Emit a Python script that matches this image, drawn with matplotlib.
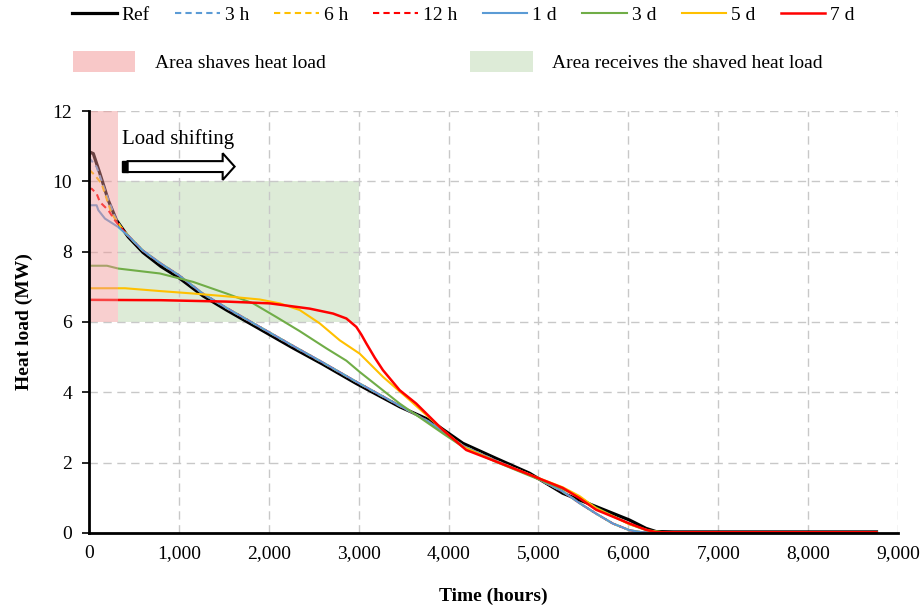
import matplotlib
matplotlib.use("Agg")
import matplotlib.pyplot as plt
from matplotlib.lines import Line2D
from matplotlib.patches import Patch, Rectangle, FancyArrow

plt.rcParams['font.family'] = ['Liberation Serif', 'DejaVu Serif']
plt.rcParams['font.size'] = 14

# reference duration curve
ref_h = [0, 11, 48, 122, 215, 307, 437, 600, 800, 1000, 1270, 1530, 1900, 2270, 2600,
         2974, 3200, 3456, 3789, 4159, 4530, 4900, 5270, 5641, 6011, 6197, 6307, 6500, 8760]
ref_mw = [10.7, 10.83, 10.79, 10.22, 9.46, 8.89, 8.42, 7.98, 7.58, 7.26, 6.74, 6.34, 5.8, 5.26, 4.8,
          4.25, 3.94, 3.59, 3.21, 2.55, 2.12, 1.70, 1.13, 0.75, 0.37, 0.13, 0.04, 0.03, 0.03]

# short storage cases share the same body after ~400 h
tail_h = [437, 600, 800, 1000, 1270, 1530, 1900, 2270, 2600, 2974, 3456, 3789, 4159, 4530,
          4900, 5270, 5456, 5641, 5826, 6011, 6150, 8760]
tail_mw = [8.45, 8.03, 7.66, 7.33, 6.80, 6.40, 5.86, 5.32, 4.85, 4.30, 3.62, 3.15, 2.48, 2.05,
           1.66, 1.18, 0.85, 0.55, 0.27, 0.08, 0.02, 0.02]

h3_h = [0, 11, 85, 178, 289, 350]
h3_mw = [10.6, 10.64, 10.41, 9.74, 8.99, 8.72]
h6_h = [0, 11, 67, 141, 252, 350]
h6_mw = [10.3, 10.31, 10.17, 9.93, 9.08, 8.72]
h12_h = [0, 30, 85, 122, 215, 289, 350]
h12_mw = [9.79, 9.79, 9.65, 9.41, 9.18, 8.89, 8.70]
d1_h = [0, 85, 104, 178, 326]
d1_mw = [9.32, 9.32, 9.18, 8.94, 8.70]

d3_h = [0, 200, 326, 789, 1159, 1530, 1826, 2085, 2344, 2641, 2863, 3011, 3456, 3937, 4159,
        4530, 4900, 5270, 5456, 5641, 6011, 6197, 6400, 8760]
d3_mw = [7.6, 7.6, 7.52, 7.38, 7.14, 6.81, 6.53, 6.14, 5.74, 5.25, 4.90, 4.58, 3.68, 2.83, 2.45,
         2.02, 1.63, 1.25, 1.02, 0.72, 0.25, 0.08, 0.02, 0.02]
d5_h = [0, 400, 789, 1159, 1530, 1900, 2122, 2344, 2567, 2789, 3011, 3270, 3567, 3937, 4159,
        4530, 4900, 5270, 5456, 5641, 6011, 6250, 6400, 8760]
d5_mw = [6.96, 6.96, 6.88, 6.81, 6.73, 6.64, 6.53, 6.34, 5.96, 5.48, 5.10, 4.44, 3.78, 2.93, 2.45,
         2.03, 1.66, 1.30, 1.05, 0.70, 0.25, 0.05, 0.02, 0.02]
d7_h = [0, 800, 1530, 2011, 2455, 2715, 2863, 2974, 3030, 3085, 3180, 3270, 3456, 3640, 3937,
        4196, 4530, 4900, 5270, 5456, 5641, 6011, 6197, 6307, 8760]
d7_mw = [6.63, 6.62, 6.58, 6.53, 6.38, 6.24, 6.10, 5.86, 5.64, 5.39, 4.98, 4.63, 4.06, 3.68, 2.93,
         2.36, 2.03, 1.66, 1.28, 0.99, 0.66, 0.27, 0.09, 0.02, 0.02]

blue = '#5B9BD5'
yellow = '#FFC000'
red = '#FF0000'
green = '#70AD47'

fig = plt.figure(figsize=(9.23, 6.11), dpi=100)
ax = fig.add_axes([0.0964, 0.1277, 0.8766, 0.6906])

# receiving area (behind the lines)
ax.add_patch(Rectangle((326, 6), 3000 - 326, 4, facecolor='#DDEBD7', edgecolor='none', zorder=0.5))

ax.plot(ref_h, ref_mw, color='black', lw=2.3, zorder=2)
ax.plot(h3_h + tail_h, h3_mw + tail_mw, color=blue, lw=1.5, ls=(0, (3, 2)), zorder=2)
ax.plot(h6_h + tail_h, h6_mw + tail_mw, color=yellow, lw=1.5, ls=(0, (3, 2)), zorder=2)
ax.plot(h12_h + tail_h, h12_mw + tail_mw, color=red, lw=1.5, ls=(0, (3, 2)), zorder=2)
ax.plot(d1_h + tail_h, d1_mw + tail_mw, color=blue, lw=1.5, zorder=2)
ax.plot(d3_h, d3_mw, color=green, lw=1.5, zorder=2)
ax.plot(d5_h, d5_mw, color=yellow, lw=1.5, zorder=2)
ax.plot(d7_h, d7_mw, color=red, lw=1.8, zorder=2)

# shaving area (translucent, on top)
ax.add_patch(Rectangle((0, 6), 326, 6, facecolor='#F09696', alpha=0.45, edgecolor='none', zorder=3))

# load shifting arrow
ax.add_patch(Rectangle((370, 10.27), 60, 0.31, facecolor='black', edgecolor='black', zorder=4))
ax.add_patch(FancyArrow(430, 10.42, 1190, 0, width=0.31, head_width=0.76, head_length=133,
                        length_includes_head=True, facecolor='white', edgecolor='black',
                        lw=1.5, zorder=4))
ax.text(370, 11.2, 'Load shifting', fontsize=15, va='center', ha='left', zorder=4)

ax.set_xlim(0, 9000)
ax.set_ylim(0, 12)
ax.set_xticks(range(0, 9001, 1000))
ax.set_xticklabels([f'{v:,}' for v in range(0, 9001, 1000)])
ax.set_yticks(range(0, 13, 2))
ax.tick_params(axis='x', length=0, pad=9, labelsize=14)
ax.tick_params(axis='y', length=5, width=1.2, direction='out', pad=7, labelsize=14)
ax.grid(True, color='#C8C8C8', ls=(0, (6, 4)), lw=1)
ax.set_axisbelow(True)
for s in ['top', 'right']:
    ax.spines[s].set_visible(False)
for s in ['left', 'bottom']:
    ax.spines[s].set_linewidth(2)
    ax.spines[s].set_zorder(5)

ax.set_xlabel('Time (hours)', fontweight='bold', fontsize=14, labelpad=18)
ax.set_ylabel('Heat load (MW)', fontweight='bold', fontsize=14, labelpad=14)

line_handles = [
    Line2D([], [], color='black', lw=2.3),
    Line2D([], [], color=blue, lw=1.5, ls=(0, (3, 2))),
    Line2D([], [], color=yellow, lw=1.5, ls=(0, (3, 2))),
    Line2D([], [], color=red, lw=1.5, ls=(0, (3, 2))),
    Line2D([], [], color=blue, lw=1.5),
    Line2D([], [], color=green, lw=1.5),
    Line2D([], [], color=yellow, lw=1.5),
    Line2D([], [], color=red, lw=1.8),
]
line_labels = ['Ref', '3 h', '6 h', '12 h', '1 d', '3 d', '5 d', '7 d']
fig.legend(line_handles, line_labels, loc='center left', bbox_to_anchor=(0.078, 0.975),
           ncol=8, frameon=False, handlelength=2.3, handletextpad=0.25, columnspacing=1.3,
           fontsize=14, borderaxespad=0, borderpad=0)

area_handles = [Patch(facecolor='#F8C8C8', edgecolor='none'),
                Patch(facecolor='#DDEBD7', edgecolor='none')]
area_labels = ['Area shaves heat load', 'Area receives the shaved heat load']
fig.legend(area_handles, area_labels, loc='center left', bbox_to_anchor=(0.079, 0.9),
           ncol=2, frameon=False, handlelength=3.2, handleheight=1.3, handletextpad=1.0,
           columnspacing=7.45, fontsize=14, borderaxespad=0, borderpad=0)

fig.savefig('out.png', dpi=100)
